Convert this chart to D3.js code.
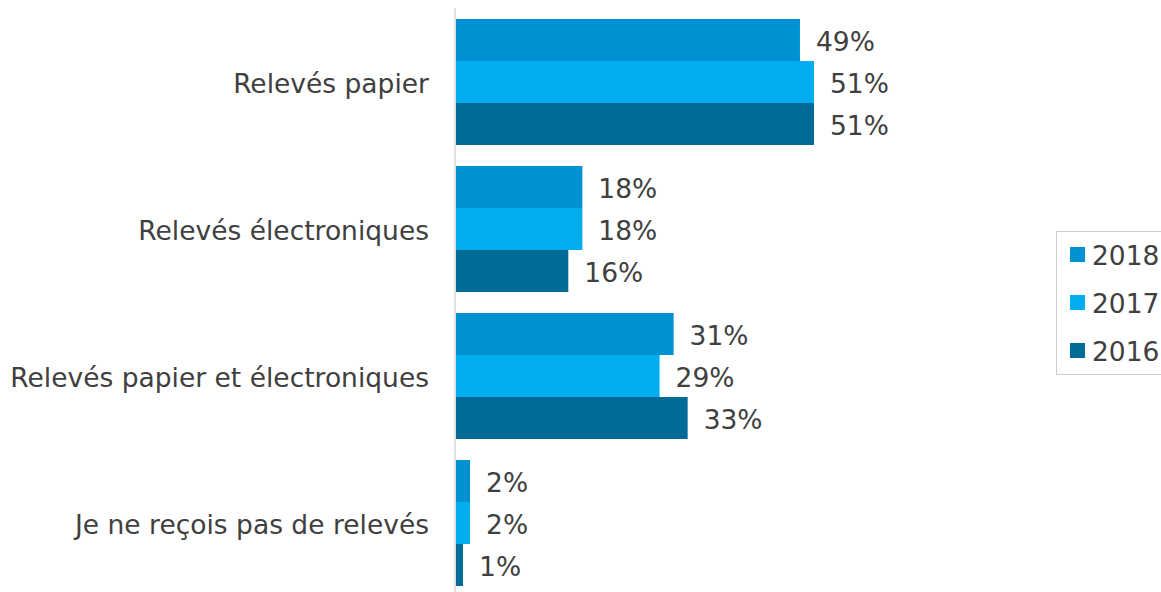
<!DOCTYPE html>
<html>
<head>
<meta charset="utf-8">
<script src="https://cdn.jsdelivr.net/npm/d3@7"></script>
<style>
  html, body { margin: 0; padding: 0; background: #fff; }
  svg { display: block; font-family: "DejaVu Sans", Verdana, sans-serif; }
</style>
</head>
<body>
<svg id="chart" width="1161" height="592"></svg>
<script>
// Categories (top to bottom) and series values in percent
const categories = [
  "Relevés papier",
  "Relevés électroniques",
  "Relevés papier et électroniques",
  "Je ne reçois pas de relevés"
];
const years = ["2018", "2017", "2016"];
const values2018 = [49, 18, 31, 2];
const values2017 = [51, 18, 29, 2];
const values2016 = [51, 16, 33, 1];

const colors = ["#0091d3", "#00adee", "#006b97"];
const seriesValues = [values2018, values2017, values2016];

const svg = d3.select("#chart");
const textColor = "#404040";
const fontSize = 26.5;

const axisX = 456;
const x = d3.scaleLinear().domain([0, 51]).range([axisX, 814]);

const y0 = d3.scaleBand()
  .domain(categories)
  .range([8.5, 596.5])
  .paddingInner(21 / 147)
  .paddingOuter(21 / 147 / 2);

const y1 = d3.scaleBand()
  .domain(years)
  .range([0, y0.bandwidth()]);

// vertical category axis line
svg.append("line")
  .attr("x1", axisX - 1).attr("x2", axisX - 1)
  .attr("y1", 8).attr("y2", 592)
  .attr("stroke", "#d9d9d9")
  .attr("stroke-width", 1.5);

const groups = svg.selectAll("g.cat")
  .data(categories)
  .join("g")
  .attr("class", "cat")
  .attr("transform", d => `translate(0,${y0(d)})`);

groups.each(function(cat, ci) {
  const g = d3.select(this);
  years.forEach((yr, si) => {
    const v = seriesValues[si][ci];
    g.append("rect")
      .attr("x", x(0))
      .attr("y", y1(yr))
      .attr("width", x(v) - x(0))
      .attr("height", y1.bandwidth())
      .attr("fill", colors[si]);
    g.append("text")
      .attr("x", x(v) + 16)
      .attr("y", y1(yr) + y1.bandwidth() / 2)
      .attr("dy", "0.42em")
      .attr("fill", textColor)
      .attr("font-size", fontSize)
      .text(v + "%");
  });
});

// category labels
svg.selectAll("text.catlabel")
  .data(categories)
  .join("text")
  .attr("class", "catlabel")
  .attr("x", 429)
  .attr("y", d => y0(d) + y0.bandwidth() / 2)
  .attr("dy", "0.42em")
  .attr("text-anchor", "end")
  .attr("fill", textColor)
  .attr("font-size", fontSize)
  .text(d => d);

// legend
const legend = svg.append("g").attr("transform", "translate(1056,231)");
legend.append("rect")
  .attr("x", 0.5).attr("y", 0.5)
  .attr("width", 120).attr("height", 143)
  .attr("fill", "#fff")
  .attr("stroke", "#cfcfcf");
years.forEach((yr, i) => {
  const cy = 23.5 + i * 48;
  legend.append("rect")
    .attr("x", 14).attr("y", cy - 7.5)
    .attr("width", 15).attr("height", 15)
    .attr("fill", colors[i]);
  legend.append("text")
    .attr("x", 36).attr("y", cy)
    .attr("dy", "0.4em")
    .attr("fill", textColor)
    .attr("font-size", fontSize)
    .text(yr);
});
</script>
</body>
</html>
